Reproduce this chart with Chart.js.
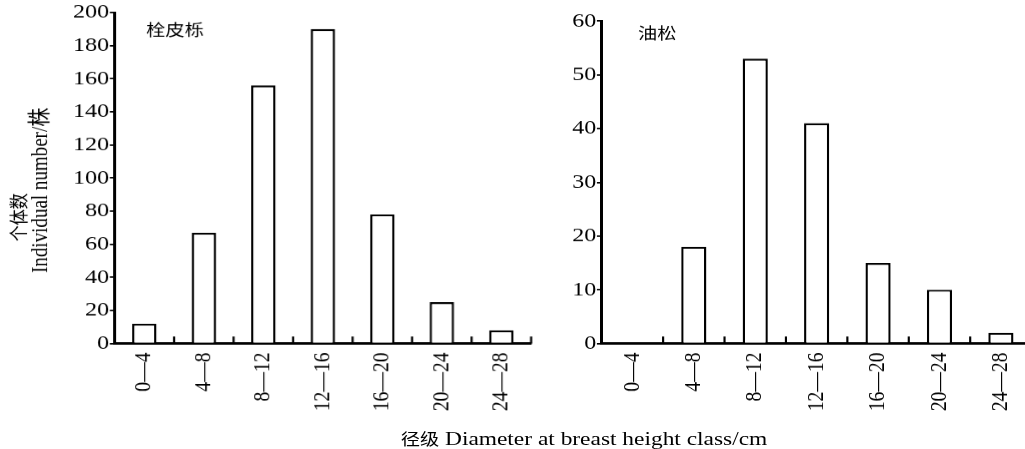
<!DOCTYPE html>
<html>
<head>
<meta charset="utf-8">
<script src="https://cdn.jsdelivr.net/npm/chart.js"></script>
<style>
  html, body { margin: 0; padding: 0; background: #fff; overflow: hidden; }
  body { width: 1025px; height: 449px; position: relative; }
  /* the reference is stretched sideways, so every box is drawn narrow and widened */
  .box { position: absolute; top: 0; height: 449px; transform: scaleX(1.2); transform-origin: 0 0; }
  #xTitle {
    position: absolute; top: 426px; left: 584px; transform: translateX(-50%) scaleX(1.2);
    font: 19.5px 'Liberation Serif', serif; line-height: 22px;
    white-space: nowrap; color: #000;
  }
  #xTitle span { font: 16px 'Noto Sans CJK SC', sans-serif; }
</style>
</head>
<body>
<div class="box" style="left:0;width:467px"><canvas id="chartQuercus"></canvas></div>
<div class="box" style="left:560px;width:400px"><canvas id="chartPinus"></canvas></div>
<div id="xTitle"><span>径级</span> Diameter at breast height class/cm</div>
<script>
const S = 1.2; // horizontal stretch of the reference

// diameter classes (cm)
const categories = ['0—4', '4—8', '8—12', '12—16', '16—20', '20—24', '24—28'];

// number of individuals per class
const quercusName = '栓皮栎';
const quercusCounts = [12, 67, 156, 190, 78, 25, 8];
const pinusName = '油松';
const pinusCounts = [0, 18, 53, 41, 15, 10, 2];

// y axis ticks
const quercusTicks = { max: 200, step: 20 };
const pinusTicks = { max: 60, step: 10 };

const yTitleCn = '个体数';
const yTitleEn = 'Individual number/株';

const latin = "'Liberation Serif', 'Noto Sans CJK SC', serif";
const cjk = "'Noto Sans CJK SC', sans-serif";

// short upward ticks between the classes
const classTicks = {
    id: 'classTicks',
    afterDraw(chart) {
        const x = chart.scales.x;
        const ctx = chart.ctx;
        const y0 = chart.chartArea.bottom;
        ctx.save();
        ctx.strokeStyle = '#000';
        ctx.lineWidth = 1.8;
        for (let i = 1; i <= categories.length; i++) {
            const px = x.getPixelForValue(i - 0.5);
            ctx.beginPath();
            ctx.moveTo(px, y0);
            ctx.lineTo(px, y0 - 7);
            ctx.stroke();
        }
        ctx.restore();
    }
};

// species name in the upper left corner of the plot, and the y title
const chartTexts = {
    id: 'chartTexts',
    afterDraw(chart, args, opts) {
        const ctx = chart.ctx;
        const area = chart.chartArea;
        ctx.save();
        ctx.fillStyle = '#000';
        ctx.font = '16px ' + cjk;
        ctx.textBaseline = 'middle';
        ctx.fillText(opts.text, area.left + opts.dx, area.top + opts.dy);
        if (opts.yTitle) {
            ctx.textAlign = 'center';
            ctx.translate(15.8, 217);
            ctx.rotate(-Math.PI / 2);
            ctx.fillText(yTitleCn, 0, 0);
            ctx.rotate(Math.PI / 2);
            ctx.translate(34.2 - 15.8, 190 - 217);
            ctx.rotate(-Math.PI / 2);
            ctx.font = '19px ' + latin;
            ctx.fillText(yTitleEn, 0, 0);
        }
        ctx.restore();
    }
};

const makeChart = function (id, width, name, counts, ticks, label) {
    const canvas = document.getElementById(id);
    canvas.width = width;
    canvas.height = 449;
    return new Chart(canvas.getContext('2d'), {
        type: 'bar',
        data: {
            labels: categories,
            datasets: [{
                label: name,
                data: counts,
                backgroundColor: '#fff',
                borderColor: '#000',
                borderWidth: 2,
                borderSkipped: 'bottom',
                categoryPercentage: 1,
                barPercentage: 0.41
            }]
        },
        options: {
            responsive: false,
            animation: false,
            devicePixelRatio: S,
            layout: { padding: { left: 0, right: 0, top: 0, bottom: 0 } },
            plugins: {
                legend: { display: false },
                tooltip: { enabled: false },
                chartTexts: label
            },
            scales: {
                x: {
                    grid: { display: false, drawTicks: false },
                    border: { color: '#000', width: 2.5 },
                    ticks: {
                        color: '#000',
                        font: { family: latin, size: 19.5 },
                        minRotation: 90,
                        maxRotation: 90,
                        padding: 9,
                        autoSkip: false
                    }
                },
                y: {
                    min: 0,
                    max: ticks.max,
                    grid: {
                        drawOnChartArea: false,
                        drawTicks: true,
                        tickLength: 4,
                        color: '#000',
                        lineWidth: 1.5
                    },
                    border: { color: '#000', width: 2.5 },
                    ticks: {
                        stepSize: ticks.step,
                        color: '#000',
                        font: { family: latin, size: 20 },
                        padding: 0.5
                    }
                }
            }
        },
        plugins: [classTicks, chartTexts]
    });
};

// move the plot area onto the reference position
const pinArea = function (chart, target) {
    for (let k = 0; k < 3; k++) {
        const a = chart.chartArea;
        const p = chart.options.layout.padding;
        p.left += target.left - a.left;
        p.right += a.right - target.right;
        p.top += target.top - a.top;
        p.bottom += a.bottom - target.bottom;
        chart.update('none');
    }
};

const chartQuercus = makeChart('chartQuercus', 467, quercusName, quercusCounts, quercusTicks,
    { text: quercusName, dx: 26.3, dy: 17, yTitle: true });
const chartPinus = makeChart('chartPinus', 400, pinusName, pinusCounts, pinusTicks,
    { text: pinusName, dx: 30.3, dy: 12.5, yTitle: false });

pinArea(chartQuercus, { left: 114.5 / S, right: 530.7 / S, top: 15, bottom: 343 });
pinArea(chartPinus, { left: 41.7 / S, right: 471 / S, top: 21, bottom: 343 });
</script>
</body>
</html>
